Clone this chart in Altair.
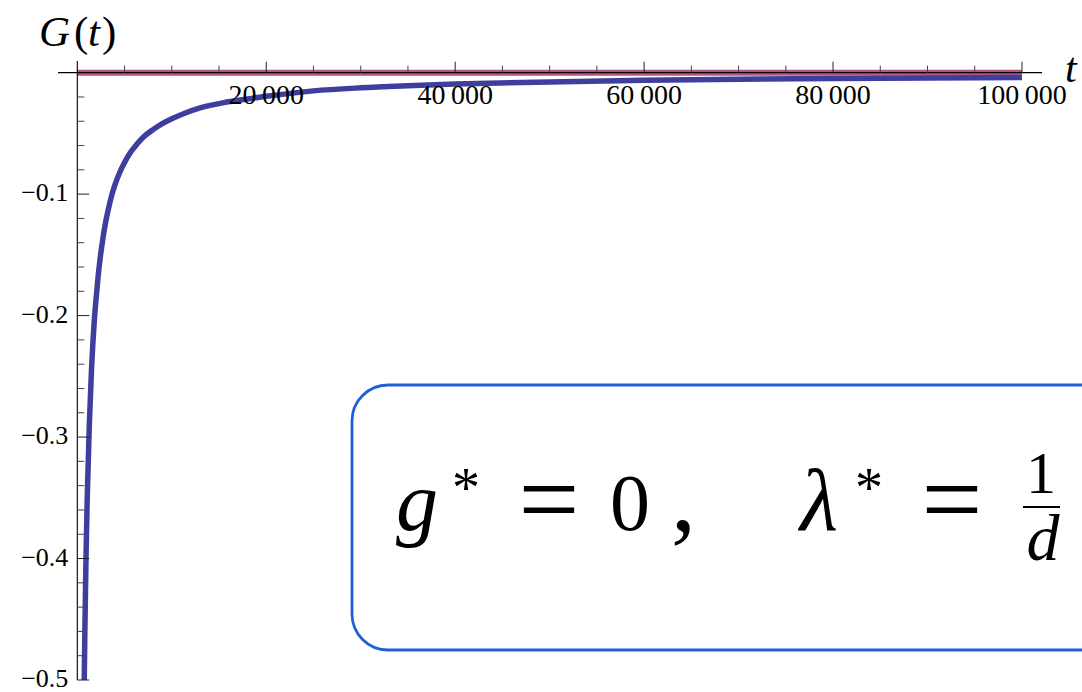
import altair as alt
import pandas as pd

# G(t) sampled along the curve
t_vals = [700, 740, 800, 920, 1050, 1270, 1500, 1800, 2000, 2200, 2400, 2700, 3000, 3300,
          3640, 4000, 4500, 5000, 5600, 6300, 7000, 8000, 9000, 10000, 11500, 13000,
          16000, 20000, 25000, 30000, 35000, 40000, 50000, 60000, 70000, 80000, 90000,
          100000]
g_vals = [-0.526, -0.497, -0.46, -0.40, -0.35, -0.29, -0.245, -0.204, -0.185, -0.168, -0.154,
          -0.137, -0.123, -0.112, -0.101, -0.092, -0.082, -0.074, -0.066, -0.059, -0.053,
          -0.047, -0.042, -0.038, -0.033, -0.029, -0.024, -0.0195, -0.015, -0.0125,
          -0.0108, -0.0094, -0.0076, -0.0063, -0.0054, -0.0048, -0.0043, -0.0040]

# fixed-point line G = 0
flat_t = [0, 100000]
flat_g = [0.0, 0.0]

# axis ticks and labels
x_minor = [5000, 10000, 15000, 25000, 30000, 35000, 45000, 50000, 55000, 65000,
           70000, 75000, 85000, 90000, 95000]
x_major = [20000, 40000, 60000, 80000, 100000]
x_labels = ["20\u2009000", "40\u2009000", "60\u2009000", "80\u2009000", "100\u2009000"]
y_minor = [-0.02, -0.04, -0.06, -0.08, -0.12, -0.14, -0.16, -0.18, -0.22, -0.24,
           -0.26, -0.28, -0.32, -0.34, -0.36, -0.38, -0.42, -0.44, -0.46, -0.48]
y_major = [-0.1, -0.2, -0.3, -0.4, -0.5]
y_labels = ["\u22120.1", "\u22120.2", "\u22120.3", "\u22120.4", "\u22120.5"]

X_DOMAIN = [-2044, 102120]
Y_DOMAIN = [-0.5, 0.0096]
W, H = 984, 619
PAD_L, PAD_T = 58, 61

FONT = "Liberation Serif"
zero_y = H * (Y_DOMAIN[1] - 0) / (Y_DOMAIN[1] - Y_DOMAIN[0])
zero_x = W * (0 - X_DOMAIN[0]) / (X_DOMAIN[1] - X_DOMAIN[0])

xs = alt.Scale(domain=X_DOMAIN, nice=False, zero=False)
ys = alt.Scale(domain=Y_DOMAIN, nice=False, zero=False)

curve_df = pd.DataFrame({"t": t_vals, "g": g_vals})
flat_df = pd.DataFrame({"t": flat_t, "g": flat_g})
xminor_df = pd.DataFrame({"t": x_minor})
xmajor_df = pd.DataFrame({"t": x_major, "label": x_labels})
yminor_df = pd.DataFrame({"g": y_minor})
ymajor_df = pd.DataFrame({"g": y_major, "label": y_labels})
one = pd.DataFrame({"k": [0]})


def txt(s, x, y, size, italic=False, align="left", baseline="alphabetic"):
    return alt.Chart(one).mark_text(
        text=s, font=FONT, fontSize=size, fontStyle="italic" if italic else "normal",
        align=align, baseline=baseline, color="black"
    ).encode(x=alt.value(x), y=alt.value(y))


# framed annotation box
box = alt.Chart(one).mark_rect(
    fill="white", stroke="#1f5fd8", strokeWidth=2.8, cornerRadius=36
).encode(x=alt.value(294), x2=alt.value(1090), y=alt.value(324), y2=alt.value(589))

flat = alt.Chart(flat_df).mark_line(color="#a8386c", strokeWidth=6, opacity=0.85).encode(
    x=alt.X("t:Q", scale=xs, axis=None), y=alt.Y("g:Q", scale=ys, axis=None))

curve = alt.Chart(curve_df).mark_line(
    color="#3e3e9e", strokeWidth=5.5, interpolate="monotone", clip=True, strokeCap="butt"
).encode(x=alt.X("t:Q", scale=xs, axis=None), y=alt.Y("g:Q", scale=ys, axis=None))

x_axis = alt.Chart(one).mark_rule(color="black", strokeWidth=1.1).encode(
    x=alt.value(0), x2=alt.value(W), y=alt.value(zero_y))
y_axis = alt.Chart(one).mark_rule(color="black", strokeWidth=1.1).encode(
    x=alt.value(zero_x), y=alt.value(0), y2=alt.value(H))

xt_minor = alt.Chart(xminor_df).mark_rule(color="#444", strokeWidth=1).encode(
    x=alt.X("t:Q", scale=xs, axis=None), y=alt.value(zero_y), y2=alt.value(zero_y - 7))
xt_major = alt.Chart(xmajor_df).mark_rule(color="#222", strokeWidth=1).encode(
    x=alt.X("t:Q", scale=xs, axis=None), y=alt.value(zero_y), y2=alt.value(zero_y - 11))
xt_labels = alt.Chart(xmajor_df).mark_text(
    font=FONT, fontSize=28, align="center", baseline="alphabetic", color="black"
).encode(x=alt.X("t:Q", scale=xs, axis=None), y=alt.value(zero_y + 31), text="label:N")

yt_minor = alt.Chart(yminor_df).mark_rule(color="#444", strokeWidth=1).encode(
    y=alt.Y("g:Q", scale=ys, axis=None), x=alt.value(zero_x), x2=alt.value(zero_x + 7))
yt_major = alt.Chart(ymajor_df).mark_rule(color="#222", strokeWidth=1).encode(
    y=alt.Y("g:Q", scale=ys, axis=None), x=alt.value(zero_x), x2=alt.value(zero_x + 12))
yt_labels = alt.Chart(ymajor_df).mark_text(
    font=FONT, fontSize=26, align="right", baseline="middle", color="black", dy=-1
).encode(y=alt.Y("g:Q", scale=ys, axis=None), x=alt.value(zero_x - 9), text="label:N")

# axis titles
titles = [
    txt("G", -19, -15, 43, italic=True),
    txt("(", 16, -15, 43),
    txt("t", 30, -15, 43, italic=True),
    txt(")", 44, -15, 43),
    txt("t", 1007, 21, 42, italic=True),
]

# g* = 0,  λ* = 1/d
formula = [
    txt("g", 338, 469, 84, italic=True),
    txt("*", 394, 446, 56),
    txt("=", 491, 474, 108, align="center"),
    txt("0", 572, 469, 80, align="center"),
    txt(",", 613, 469, 100),
    txt("\u03bb", 742, 469, 88, italic=True),
    txt("*", 797, 446, 56),
    txt("=", 894, 474, 108, align="center"),
    txt("1", 983, 432, 60, align="center"),
    alt.Chart(one).mark_rule(color="black", strokeWidth=2).encode(
        x=alt.value(965), x2=alt.value(1002), y=alt.value(446)),
    txt("d", 985, 499, 66, italic=True, align="center"),
]

chart = alt.layer(
    box, flat, curve, x_axis, y_axis, xt_minor, xt_major, xt_labels,
    yt_minor, yt_major, yt_labels, *titles, *formula
).properties(
    width=W, height=H,
    padding={"left": PAD_L, "top": PAD_T, "right": 1082 - PAD_L - W, "bottom": 692 - PAD_T - H},
    autosize=alt.AutoSizeParams(type="none"),
    background="white",
).configure_view(stroke=None)

chart.save("out.html", embed_options={"renderer": "svg", "actions": False})
